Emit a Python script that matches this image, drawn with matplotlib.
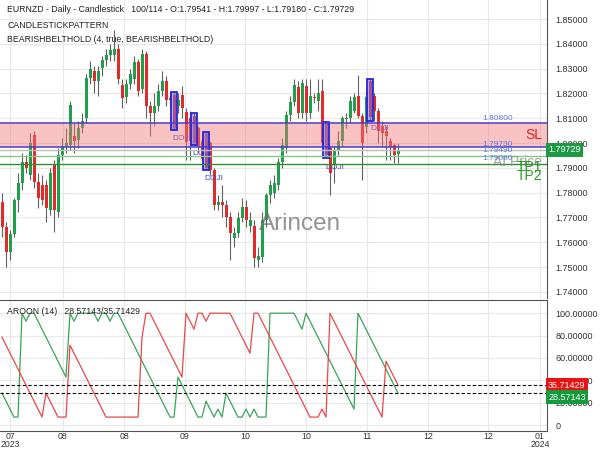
import matplotlib
matplotlib.use("Agg")
import matplotlib.pyplot as plt
from matplotlib.patches import Rectangle

plt.rcParams["font.family"] = ["Liberation Sans", "DejaVu Sans"]

# daily EURNZD candles
opens = [1.7762, 1.7661, 1.7560, 1.7635, 1.7770, 1.7838, 1.7923, 1.7870, 1.8032, 1.7843,
         1.7830, 1.7830, 1.7730, 1.7910, 1.7720, 1.7950, 1.7990, 1.7992, 1.8030, 1.8012,
         1.8060, 1.8100, 1.8262, 1.8290, 1.8250, 1.8302, 1.8335, 1.8355, 1.8355, 1.8380,
         1.8234, 1.8185, 1.8240, 1.8258, 1.8327, 1.8220, 1.8360, 1.8150, 1.8120, 1.8150,
         1.8210, 1.8250, 1.8180, 1.8195, 1.8150, 1.8195, 1.8125, 1.8100, 1.8110, 1.8060,
         1.8010, 1.8035, 1.8000, 1.7890, 1.7750, 1.7762, 1.7750, 1.7700, 1.7617, 1.7637,
         1.7697, 1.7742, 1.7665, 1.7665, 1.7530, 1.7540, 1.7690, 1.7790, 1.7800, 1.7830,
         1.7923, 1.7980, 1.8113, 1.8165, 1.8226, 1.8121, 1.8230, 1.8121, 1.8185, 1.8170,
         1.8210, 1.8080, 1.7980, 1.7915, 1.7968, 1.8008, 1.8095, 1.8101, 1.8130, 1.8190,
         1.8110, 1.8065, 1.8250, 1.8190, 1.8130, 1.8070, 1.8050, 1.8010, 1.7992, 1.79541]
highs = [1.7800, 1.7680, 1.7650, 1.7780, 1.7880, 1.7960, 1.7950, 1.8040, 1.8050, 1.7880,
         1.7870, 1.7850, 1.7900, 1.7930, 1.7980, 1.8020, 1.8060, 1.8170, 1.8080, 1.8090,
         1.8120, 1.8280, 1.8330, 1.8310, 1.8310, 1.8350, 1.8380, 1.8400, 1.8456, 1.8400,
         1.8260, 1.8260, 1.8300, 1.8350, 1.8340, 1.8380, 1.8370, 1.8170, 1.8200, 1.8240,
         1.8290, 1.8270, 1.8200, 1.8206, 1.8200, 1.8230, 1.8140, 1.8130, 1.8121, 1.8070,
         1.8030, 1.8044, 1.8010, 1.7900, 1.7790, 1.7830, 1.7770, 1.7720, 1.7660, 1.7720,
         1.7780, 1.7770, 1.7720, 1.7690, 1.7580, 1.7720, 1.7800, 1.7850, 1.7870, 1.7940,
         1.8020, 1.8130, 1.8190, 1.8260, 1.8250, 1.8260, 1.8260, 1.8260, 1.8200, 1.8260,
         1.8260, 1.8085, 1.7990, 1.7990, 1.8050, 1.8110, 1.8120, 1.8190, 1.8200, 1.8274,
         1.8120, 1.8210, 1.8258, 1.8200, 1.8140, 1.8090, 1.8070, 1.8020, 1.8000, 1.79997]
lows = [1.7620, 1.7500, 1.7530, 1.7620, 1.7720, 1.7810, 1.7880, 1.7850, 1.7820, 1.7740,
        1.7750, 1.7680, 1.7710, 1.7640, 1.7700, 1.7930, 1.7960, 1.7970, 1.7960, 1.7980,
        1.8040, 1.8080, 1.8240, 1.8200, 1.8190, 1.8270, 1.8310, 1.8330, 1.8330, 1.8240,
        1.8140, 1.8160, 1.8220, 1.8240, 1.8190, 1.8200, 1.8100, 1.8030, 1.8070, 1.8130,
        1.8190, 1.8150, 1.8150, 1.8052, 1.8120, 1.8100, 1.7931, 1.7930, 1.7992, 1.7960,
        1.7920, 1.7891, 1.7870, 1.7730, 1.7730, 1.7700, 1.7660, 1.7528, 1.7580, 1.7620,
        1.7680, 1.7660, 1.7640, 1.7500, 1.7500, 1.7520, 1.7660, 1.7760, 1.7780, 1.7810,
        1.7900, 1.7960, 1.8090, 1.8150, 1.8100, 1.8100, 1.8090, 1.8100, 1.8160, 1.8130,
        1.7980, 1.7940, 1.7790, 1.7840, 1.7950, 1.7990, 1.8060, 1.8080, 1.8120, 1.8100,
        1.7850, 1.8040, 1.8089, 1.8090, 1.8000, 1.7990, 1.7930, 1.7930, 1.7918, 1.79180]
closes = [1.7661, 1.7560, 1.7635, 1.7770, 1.7838, 1.7923, 1.7900, 1.8000, 1.7843, 1.7780,
          1.7770, 1.7740, 1.7880, 1.7730, 1.7950, 1.7990, 1.8000, 1.8153, 1.8010, 1.8060,
          1.8090, 1.8262, 1.8300, 1.8250, 1.8290, 1.8335, 1.8355, 1.8375, 1.8380, 1.8258,
          1.8181, 1.8240, 1.8280, 1.8327, 1.8210, 1.8360, 1.8150, 1.8120, 1.8150, 1.8210,
          1.8250, 1.8175, 1.8175, 1.8060, 1.8175, 1.8140, 1.8005, 1.8010, 1.8000, 1.7984,
          1.7935, 1.7900, 1.7890, 1.7750, 1.7762, 1.7750, 1.7700, 1.7637, 1.7637, 1.7697,
          1.7742, 1.7690, 1.7690, 1.7536, 1.7545, 1.7690, 1.7790, 1.7830, 1.7840, 1.7923,
          1.7992, 1.8113, 1.8165, 1.8234, 1.8121, 1.8242, 1.8121, 1.8190, 1.8180, 1.8202,
          1.8000, 1.7950, 1.7879, 1.7968, 1.8008, 1.8101, 1.8101, 1.8170, 1.8186, 1.8110,
          1.8000, 1.8186, 1.8105, 1.8130, 1.8050, 1.8040, 1.8030, 1.7985, 1.7952, 1.79729]

aroon_up = [28.57, 21.43, 14.29, 7.14, 7.14, 100, 92.86, 100, 100, 92.86,
            85.71, 78.57, 71.43, 64.29, 57.14, 50.00, 42.86, 100, 92.86, 100,
            100, 100, 100, 100, 92.86, 100, 100, 92.86, 100, 100,
            92.86, 85.71, 78.57, 71.43, 64.29, 57.14, 50.00, 42.86, 35.71, 28.57,
            21.43, 14.29, 7.14, 7.14, 42.86, 35.71, 28.57, 21.43, 14.29, 7.14,
            7.14, 21.43, 14.29, 7.14, 14.29, 7.14, 28.57, 21.43, 14.29, 7.14,
            7.14, 14.29, 7.14, 14.29, 7.14, 7.14, 7.14, 100, 100, 100,
            100, 100, 100, 100, 92.86, 85.71, 100, 92.86, 85.71, 78.57,
            71.43, 64.29, 57.14, 50.00, 42.86, 35.71, 28.57, 21.43, 14.29, 100,
            92.86, 85.71, 78.57, 71.43, 64.29, 57.14, 50.00, 42.86, 35.71, 28.57]
aroon_down = [78.57, 71.43, 64.29, 57.14, 50.00, 42.86, 35.71, 28.57, 21.43, 14.29,
              7.14, 28.57, 21.43, 14.29, 7.14, 7.14, 7.14, 71.43, 64.29, 57.14,
              50.00, 42.86, 35.71, 28.57, 21.43, 14.29, 7.14, 7.14, 7.14, 7.14,
              7.14, 7.14, 7.14, 7.14, 7.14, 78.57, 100, 100, 92.86, 85.71,
              78.57, 71.43, 64.29, 57.14, 50.00, 42.86, 100, 92.86, 85.71, 100,
              100, 92.86, 100, 100, 100, 100, 100, 100, 92.86, 85.71,
              78.57, 71.43, 64.29, 100, 100, 92.86, 85.71, 78.57, 71.43, 64.29,
              57.14, 50.00, 42.86, 35.71, 28.57, 21.43, 14.29, 7.14, 7.14, 7.14,
              14.29, 7.14, 100, 92.86, 85.71, 78.57, 71.43, 64.29, 57.14, 50.00,
              42.86, 35.71, 28.57, 21.43, 14.29, 7.14, 57.14, 50.00, 42.86, 35.71]

pattern_bars = [43, 48, 51, 81, 92]
doji_labels = [(45, 1.8020), (50, 1.7959), (53, 1.7859), (83.3, 1.7903), (94.5, 1.8060)]

sl_top, sl_bottom = 1.8080, 1.7985
price_line = 1.7970
tp1, tp2 = 1.7947, 1.7915
last_close = 1.79729
aroon_up_last, aroon_down_last = 28.57143, 35.71429

xtick_pos = [2, 15.25, 30.5, 45.75, 60.75, 76, 91.25, 106.5, 121.5, 134.5]
xtick_lbl = ["07\n2023", "08", "08", "09", "10", "10", "11", "12", "12", "01\n2024"]
price_ticks = [1.74, 1.75, 1.76, 1.77, 1.78, 1.79, 1.80, 1.81, 1.82, 1.83, 1.84, 1.85]
aroon_ticks = [0, 20, 40, 60, 80, 100]

GREEN, RED = "#1f9e4c", "#e12a2a"
AX_COL = "#555555"
GRID = "#e8e8e8"
FS = 6

fig = plt.figure(figsize=(6, 4.5), dpi=100)
ax = fig.add_axes([0, 152 / 450, 547 / 600, 298 / 450])
ax2 = fig.add_axes([0, 19 / 450, 547 / 600, 131 / 450], sharex=ax)

x = list(range(len(closes)))

# --- main candle panel
ax.vlines(x, lows, highs, color="#606060", lw=0.8, zorder=2)
for i in x:
    o, c = opens[i], closes[i]
    col = GREEN if c >= o else RED
    ax.bar(i, max(abs(c - o), 0.00015), bottom=min(o, c), width=0.75,
           color=col, zorder=2.5)

ax.axhspan(sl_bottom, sl_top, color="#f27a7a", alpha=0.45, lw=0, zorder=3)
ax.axhline(sl_top, color="#4a3cd2", lw=1.1, zorder=4)
ax.axhline(sl_bottom, color="#4a3cd2", lw=1.1, zorder=4)
ax.axhline(price_line, color="#bdbdbd", lw=1.0, zorder=4)
ax.axhline(tp1, color="#86c886", lw=1.0, zorder=4)
ax.axhline(tp2, color="#2f8f2f", lw=1.0, zorder=4)

for b in pattern_bars:
    ax.add_patch(Rectangle((b - 0.75, lows[b]), 1.5, highs[b] - lows[b],
                           facecolor="#7a6ee0", alpha=0.55, edgecolor="none", zorder=3.5))
    ax.add_patch(Rectangle((b - 0.75, lows[b]), 1.5, highs[b] - lows[b],
                           facecolor="none", edgecolor="#2626d4", lw=1.3, zorder=3.6))
for bx, by in doji_labels:
    ax.text(bx, by, "DOJI", color="#3b46d0", fontsize=6, ha="center", va="center", zorder=2.8)

lvl_kw = dict(color="#5b7be6", fontsize=6, ha="center", va="center", zorder=5)
ax.text(124, 1.8100, "1.80800", **lvl_kw)
ax.text(124, 1.7996, "1.79730", **lvl_kw)
ax.text(124, 1.7968, "1.79490", **lvl_kw)
ax.text(124, 1.7939, "1.79080", **lvl_kw)
ax.text(135, 1.8032, "SL", color="#e02020", fontsize=10, ha="right", va="center", zorder=5)
ax.text(135, 1.7923, "AI Price", color="#8c8c8c", fontsize=10, ha="right", va="center",
        alpha=0.8, zorder=5)
ax.text(135, 1.7903, "TP1", color="#279a27", fontsize=10, ha="right", va="center", zorder=5)
ax.text(135, 1.7867, "TP2", color="#279a27", fontsize=10, ha="right", va="center", zorder=5)
ax.text(74.5, 1.7673, "Arincen", color="#707070", fontsize=17.5, alpha=0.75,
        ha="center", va="center", zorder=6)

ax.set_xlim(-0.5, 136.25)
ax.set_ylim(1.7375, 1.8577)
ax.set_yticks(price_ticks)
ax.set_yticklabels([f"{t:.5f}" for t in price_ticks])

# --- aroon panel
ax2.plot(x, aroon_up, color="#3aa35a", lw=0.9)
ax2.plot(x, aroon_down, color="#e84848", lw=0.9)
ax2.axhline(aroon_down_last, color="black", lw=0.8, ls=(0, (3, 2)))
ax2.axhline(aroon_up_last, color="black", lw=0.8, ls=(0, (3, 2)))
ax2.set_ylim(-5.3, 111.8)
ax2.set_yticks(aroon_ticks)
ax2.set_yticklabels(["0"] + [f"{t:.5f}" for t in aroon_ticks[1:]])
ax2.set_xticks(xtick_pos)
ax2.set_xticklabels(xtick_lbl, linespacing=0.85)

for a in (ax, ax2):
    a.yaxis.tick_right()
    a.grid(True, color=GRID, lw=0.8)
    a.set_axisbelow(True)
    a.tick_params(axis="y", length=0, pad=6, labelsize=FS + 0.5, labelcolor="#333333")
    a.tick_params(axis="x", length=0, pad=1, labelsize=FS + 0.3, labelcolor="#333333")
    for s in ("left", "top", "bottom"):
        a.spines[s].set_visible(False)
    a.spines["right"].set_color(AX_COL)
ax.tick_params(axis="x", labelbottom=False)
ax2.spines["top"].set_visible(True)
ax2.spines["bottom"].set_visible(True)
ax2.spines["top"].set_color(AX_COL)
ax2.spines["bottom"].set_color(AX_COL)
for a in (ax, ax2):
    for lbl in a.get_yticklabels():
        lbl.set_horizontalalignment("left")

# value tags on the right axis
tag_kw = dict(color="white", fontsize=FS + 0.5, va="center", ha="left", zorder=10, clip_on=False)
ax.text(1.002, last_close, f"{last_close:.5f}", transform=ax.get_yaxis_transform(),
        bbox=dict(boxstyle="square,pad=0.25", fc="#1c9a44", ec="none"), **tag_kw)
ax2.text(1.002, aroon_down_last, f"{aroon_down_last:.5f}", transform=ax2.get_yaxis_transform(),
         bbox=dict(boxstyle="square,pad=0.25", fc="#e81414", ec="none"), **tag_kw)
ax2.text(1.002, 25.0, f"{aroon_up_last:.5f}", transform=ax2.get_yaxis_transform(),
         bbox=dict(boxstyle="square,pad=0.25", fc="#149a3c", ec="none"), **tag_kw)

# header texts
hdr_kw = dict(fontsize=FS + 0.3, color="#222222", va="center")
fig.text(7 / 600, 1 - 9 / 450,
         "EURNZD - Daily - Candlestick   100/114 - O:1.79541 - H:1.79997 - L:1.79180 - C:1.79729",
         **hdr_kw)
fig.text(7 / 600, 1 - 25 / 450, "CANDLESTICKPATTERN", **hdr_kw)
fig.text(7 / 600, 1 - 40 / 450, "BEARISHBELTHOLD (4, true, BEARISHBELTHOLD)", **hdr_kw)
fig.text(7 / 600, 1 - 312 / 450, "AROON (14)   28.57143/35.71429", **hdr_kw)

fig.savefig("out.png", dpi=100)
